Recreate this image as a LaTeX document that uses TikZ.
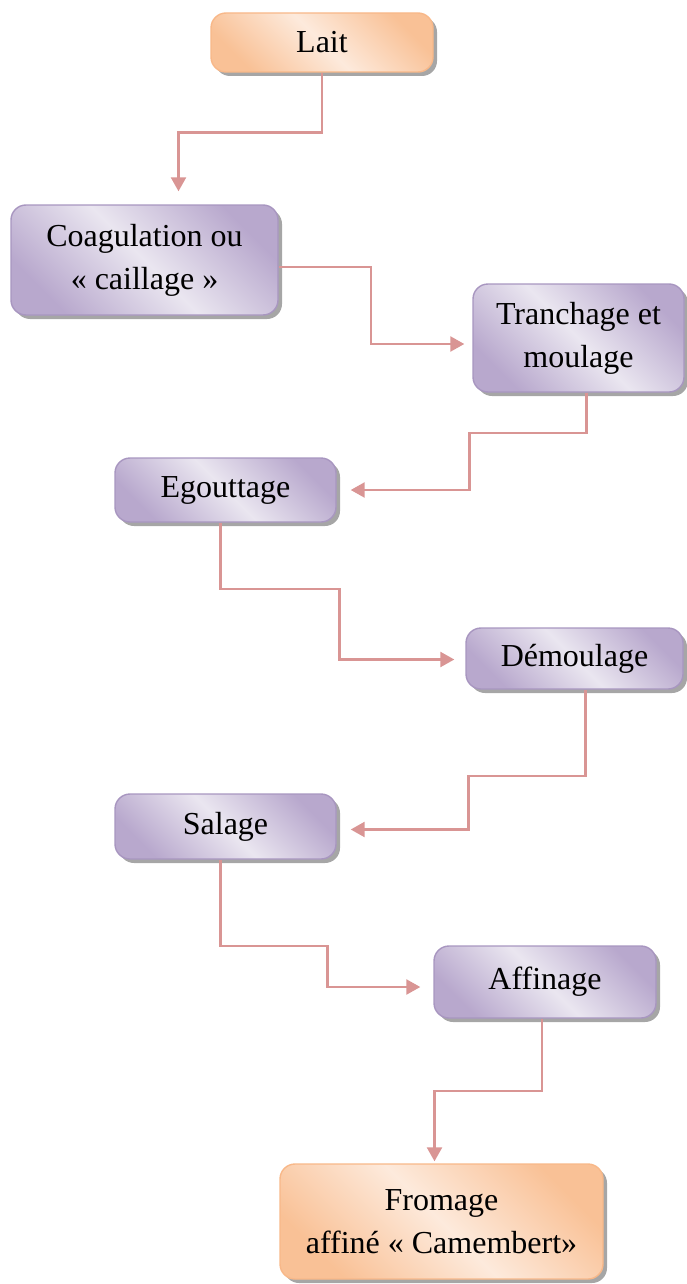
\documentclass[tikz,border=0pt]{standalone}
\usepackage{fontspec}
\setmainfont{Liberation Serif}
\usetikzlibrary{arrows.meta,shadows}
\definecolor{purpD}{HTML}{B8A8CD}
\definecolor{purpL}{HTML}{EAE6F0}
\definecolor{purpB}{HTML}{A896C0}
\definecolor{orD}{HTML}{F9C196}
\definecolor{orL}{HTML}{FDEADC}
\definecolor{orB}{HTML}{F8B889}
\definecolor{conncol}{HTML}{D99594}
\tikzset{
  box/.style={rectangle, rounded corners=15pt, align=center, inner sep=2pt,
    font=\fontsize{32}{43}\selectfont, line width=1.4pt,
    execute at begin node={\rule{0pt}{8pt}\\[-8pt]},
    drop shadow={shadow xshift=4pt, shadow yshift=-4pt, fill=black, opacity=0.35}},
  pbox/.style={box, draw=purpB, left color=purpD, right color=purpD, middle color=purpL, shading angle=135},
  obox/.style={box, draw=orB, left color=orD, right color=orD, middle color=orL, shading angle=135},
  conn/.style={draw=conncol, line width=2.4pt, -{Triangle[width=15pt,length=14pt]}}
}
\begin{document}
\begin{tikzpicture}[x=1pt,y=-1pt]
\useasboundingbox (0,0) rectangle (687,1284);
\node[obox, minimum width=222pt, minimum height=59pt] (lait) at (322,42.5) {Lait};
\node[pbox, minimum width=267pt, minimum height=110pt] (coag) at (144.5,260) {Coagulation ou\\« caillage »};
\node[pbox, minimum width=211pt, minimum height=108pt] (tranch) at (578.5,338) {Tranchage et\\moulage};
\node[pbox, minimum width=221pt, minimum height=64pt] (egout) at (225.5,490) {Egouttage};
\node[pbox, minimum width=217pt, minimum height=61pt] (demoul) at (574.5,658.5) {Démoulage};
\node[pbox, minimum width=221pt, minimum height=65pt] (salage) at (225.5,826.5) {Salage};
\node[pbox, minimum width=222pt, minimum height=72pt] (affin) at (545,982) {Affinage};
\node[obox, minimum width=323pt, minimum height=115pt] (fromage) at (441.5,1221.5) {Fromage\\affiné « Camembert»};

\draw[conn, shorten >=13pt] (lait.south) -- ++(0,60) -| ([xshift=34pt]coag.north);
\draw[conn, shorten >=8pt] ([yshift=-7pt]coag.east) -- ++(92,0) |- ([yshift=-6pt]tranch.west);
\draw[conn, shorten >=14pt] ([xshift=8pt]tranch.south) -- ++(0,40) -- ++(-117,0) |- (egout.east);
\draw[conn, shorten >=11pt] ([xshift=-5pt]egout.south) -- ++(0,66) -- ++(119,0) |- ([yshift=-1pt]demoul.west);
\draw[conn, shorten >=14pt] ([xshift=11pt]demoul.south) -- ++(0,86) -- ++(-117,0) |- ([yshift=-3pt]salage.east);
\draw[conn, shorten >=13pt] ([xshift=-5pt]salage.south) -- ++(0,86) -- ++(107,0) |- ([yshift=-5pt]affin.west);
\draw[conn, shorten >=2pt] ([xshift=-3pt]affin.south) -- ++(0,72) -| ([xshift=-7pt]fromage.north);
\end{tikzpicture}
\end{document}
